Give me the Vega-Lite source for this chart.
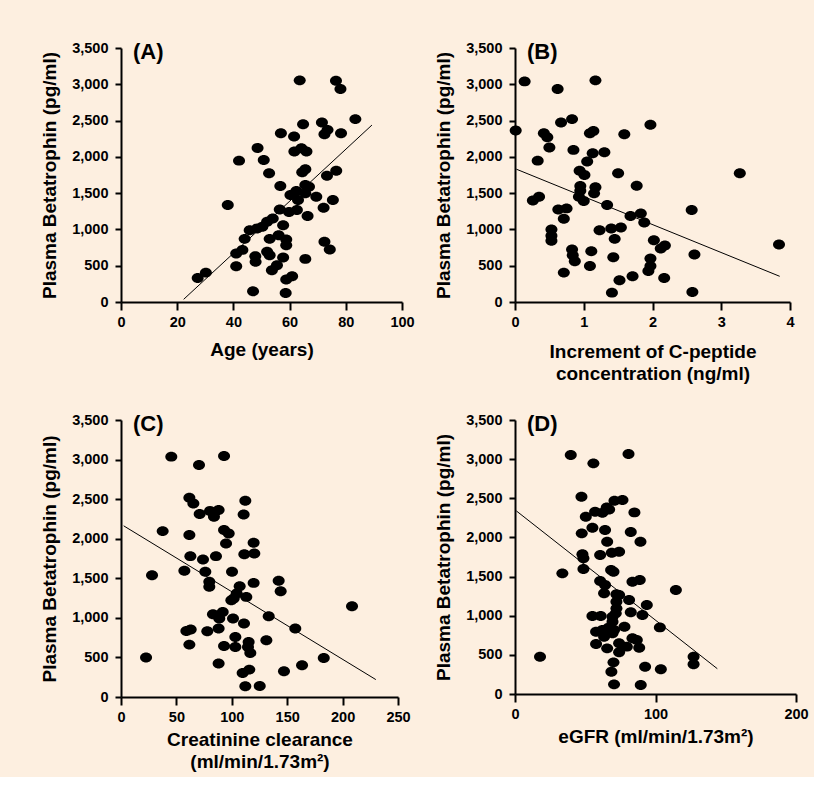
{
  "$schema": "https://vega.github.io/schema/vega-lite/v6.json",
  "padding": {"left": 40, "top": 40, "right": 5, "bottom": 5},
  "background": "#fdefe0",
  "columns": 2,
  "spacing": {"row": 118, "column": 113},
  "bounds": "flush",
  "align": "each",
  "datasets": {
    "a": [
      {"x":27.3,"y":332},{"x":30.2,"y":405},{"x":38,"y":1336},{"x":42,"y":1948},{"x":41,"y":668},{"x":43.2,"y":718},{"x":41,"y":493},{"x":44,"y":870},{"x":45.8,"y":990},{"x":47,"y":147},{"x":47.8,"y":631},{"x":47.9,"y":553},{"x":48.6,"y":2123},{"x":48.4,"y":1013},{"x":50.8,"y":1958},{"x":50.3,"y":1036},{"x":52,"y":691},{"x":52.9,"y":645},{"x":52.7,"y":1773},{"x":52,"y":1105},{"x":54,"y":1151},{"x":52.9,"y":870},{"x":53.7,"y":438},{"x":55.5,"y":507},{"x":56.1,"y":921},{"x":56.9,"y":2326},{"x":56.7,"y":1598},{"x":56.5,"y":1276},{"x":57.7,"y":1059},{"x":57.7,"y":613},{"x":58.8,"y":861},{"x":58.8,"y":783},{"x":58.6,"y":124},{"x":58.8,"y":309},{"x":59.8,"y":1239},{"x":60.9,"y":355},{"x":60.3,"y":1474},{"x":61.6,"y":2280},{"x":61.7,"y":2073},{"x":62.4,"y":1529},{"x":62.6,"y":1267},{"x":63.6,"y":3054},{"x":63,"y":1405},{"x":64.2,"y":2119},{"x":64.8,"y":2450},{"x":64.5,"y":1787},{"x":65.6,"y":1829},{"x":66,"y":2073},{"x":65.6,"y":1612},{"x":65.6,"y":1497},{"x":66.4,"y":1184},{"x":66.9,"y":1589},{"x":65.6,"y":594},{"x":69.5,"y":1451},{"x":71.5,"y":2473},{"x":72.1,"y":1299},{"x":72.4,"y":2312},{"x":73.5,"y":2372},{"x":72.4,"y":829},{"x":74.3,"y":723},{"x":75.4,"y":1405},{"x":73.3,"y":1741},{"x":76.6,"y":1810},{"x":76.5,"y":3049},{"x":78.1,"y":2934},{"x":78.3,"y":2326},{"x":83.4,"y":2520}
    ],
    "la": [{"x":22.3,"y":37},{"x":89.3,"y":2438}],
    "b": [
      {"x":0.01,"y":2363},{"x":0.14,"y":3040},{"x":0.26,"y":1400},{"x":0.35,"y":1451},{"x":0.33,"y":1948},{"x":0.42,"y":2326},{"x":0.47,"y":2271},{"x":0.5,"y":2128},{"x":0.62,"y":2934},{"x":0.67,"y":2473},{"x":0.53,"y":1000},{"x":0.53,"y":912},{"x":0.53,"y":843},{"x":0.63,"y":1276},{"x":0.75,"y":1290},{"x":0.71,"y":1147},{"x":0.71,"y":405},{"x":0.83,"y":2520},{"x":0.85,"y":2096},{"x":0.83,"y":723},{"x":0.84,"y":645},{"x":0.87,"y":562},{"x":0.94,"y":1810},{"x":0.95,"y":1598},{"x":0.95,"y":1534},{"x":0.93,"y":1451},{"x":1.0,"y":1391},{"x":1.01,"y":1750},{"x":1.05,"y":1935},{"x":1.09,"y":2326},{"x":1.14,"y":2358},{"x":1.13,"y":2050},{"x":1.17,"y":3054},{"x":1.15,"y":1497},{"x":1.17,"y":1580},{"x":1.11,"y":700},{"x":1.09,"y":497},{"x":1.23,"y":990},{"x":1.3,"y":2064},{"x":1.34,"y":1336},{"x":1.4,"y":1013},{"x":1.45,"y":870},{"x":1.43,"y":617},{"x":1.41,"y":129},{"x":1.54,"y":1027},{"x":1.52,"y":299},{"x":1.59,"y":2312},{"x":1.5,"y":1773},{"x":1.68,"y":1184},{"x":1.71,"y":355},{"x":1.77,"y":1603},{"x":1.83,"y":1221},{"x":1.88,"y":1096},{"x":1.97,"y":2441},{"x":2.02,"y":852},{"x":1.97,"y":599},{"x":1.97,"y":497},{"x":1.94,"y":428},{"x":2.12,"y":737},{"x":2.18,"y":778},{"x":2.17,"y":332},{"x":2.57,"y":1267},{"x":2.61,"y":654},{"x":2.58,"y":138},{"x":3.27,"y":1773},{"x":3.84,"y":792}
    ],
    "lb": [{"x":0.02,"y":1830},{"x":3.85,"y":354}],
    "c": [
      {"x":22.6,"y":498},{"x":28,"y":1539},{"x":37.6,"y":2096},{"x":45.4,"y":3037},{"x":57.2,"y":1594},{"x":59,"y":835},{"x":62.9,"y":852},{"x":61.7,"y":662},{"x":61.7,"y":2518},{"x":65.3,"y":2446},{"x":61.7,"y":2046},{"x":62.6,"y":1780},{"x":70.4,"y":2931},{"x":71,"y":2311},{"x":74,"y":1738},{"x":76.1,"y":1582},{"x":77.9,"y":831},{"x":79.7,"y":1455},{"x":79.7,"y":1392},{"x":80.3,"y":2349},{"x":83.9,"y":2277},{"x":83,"y":1046},{"x":85.7,"y":1780},{"x":88.1,"y":2362},{"x":88.1,"y":865},{"x":88.1,"y":422},{"x":93,"y":3045},{"x":93,"y":2109},{"x":97.2,"y":2067},{"x":94.8,"y":1940},{"x":93,"y":645},{"x":91.8,"y":1075},{"x":88.7,"y":991},{"x":100.2,"y":1582},{"x":101.1,"y":991},{"x":103.2,"y":759},{"x":103.2,"y":633},{"x":99.6,"y":1223},{"x":101.7,"y":1244},{"x":104.4,"y":1307},{"x":107.1,"y":1400},{"x":110.7,"y":2307},{"x":112.2,"y":2480},{"x":111,"y":928},{"x":111.3,"y":1805},{"x":113.1,"y":1265},{"x":114.6,"y":633},{"x":116.7,"y":557},{"x":115.2,"y":696},{"x":109.8,"y":304},{"x":112.2,"y":135},{"x":115.8,"y":346},{"x":119.7,"y":1442},{"x":119.7,"y":1948},{"x":120.3,"y":1814},{"x":125.2,"y":139},{"x":131.2,"y":717},{"x":133.3,"y":1021},{"x":142.3,"y":1468},{"x":144.1,"y":1337},{"x":147.1,"y":325},{"x":157.3,"y":865},{"x":163.4,"y":401},{"x":183,"y":493},{"x":208.5,"y":1147}
    ],
    "lc": [{"x":2.4,"y":2163},{"x":230,"y":220}],
    "d": [
      {"x":17.8,"y":477},{"x":33.7,"y":1541},{"x":39.7,"y":3052},{"x":47.3,"y":2520},{"x":50.4,"y":2265},{"x":47.5,"y":2052},{"x":48,"y":1784},{"x":48.7,"y":1733},{"x":48.7,"y":1596},{"x":55.1,"y":2124},{"x":55.1,"y":996},{"x":61,"y":996},{"x":55.8,"y":2946},{"x":57,"y":2329},{"x":57.7,"y":796},{"x":57.7,"y":639},{"x":60.6,"y":1443},{"x":60.6,"y":1775},{"x":62.2,"y":2316},{"x":64.1,"y":1392},{"x":63.4,"y":1286},{"x":64.1,"y":2094},{"x":65.3,"y":2384},{"x":65.6,"y":1946},{"x":67,"y":2358},{"x":68.9,"y":1805},{"x":68.4,"y":1584},{"x":70.1,"y":1562},{"x":70.8,"y":2469},{"x":65.6,"y":583},{"x":62.2,"y":817},{"x":63.4,"y":732},{"x":69.4,"y":775},{"x":66.5,"y":847},{"x":69.4,"y":988},{"x":69.4,"y":924},{"x":70.5,"y":817},{"x":71.7,"y":1030},{"x":72.2,"y":1094},{"x":72.2,"y":1179},{"x":72.2,"y":1273},{"x":74.1,"y":1264},{"x":70.1,"y":404},{"x":68.6,"y":285},{"x":70.5,"y":123},{"x":74.1,"y":1818},{"x":74.1,"y":647},{"x":74.1,"y":532},{"x":76.5,"y":2478},{"x":77.9,"y":860},{"x":79.6,"y":605},{"x":80.8,"y":3065},{"x":81.2,"y":1201},{"x":82.4,"y":1043},{"x":82.4,"y":2069},{"x":83.6,"y":1435},{"x":85,"y":2320},{"x":83.6,"y":711},{"x":86.7,"y":690},{"x":88.8,"y":1456},{"x":89.3,"y":1946},{"x":88.4,"y":592},{"x":90.7,"y":1009},{"x":92.6,"y":349},{"x":89.5,"y":115},{"x":93.8,"y":1137},{"x":103.1,"y":851},{"x":103.8,"y":315},{"x":114.5,"y":1328},{"x":127.1,"y":477},{"x":127.1,"y":379}
    ],
    "ld": [{"x":1,"y":2338},{"x":144,"y":323}]
  },
  "concat": [
    {
      "title": {"text": "(A)"},
      "width": 281, "height": 254,
      "encoding": {
        "x": {"field": "x", "type": "quantitative", "scale": {"domain": [0, 100], "nice": false}, "axis": {"values": [0, 20, 40, 60, 80, 100], "format": "d", "title": "Age (years)", "titlePadding": 12}},
        "y": {"field": "y", "type": "quantitative", "scale": {"domain": [0, 3500], "nice": false}, "axis": {"values": [0, 500, 1000, 1500, 2000, 2500, 3000, 3500], "format": ",d", "title": "Plasma Betatrophin (pg/ml)"}}
      },
      "layer": [
        {"data": {"name": "a"}, "mark": {"type": "point", "shape": "M1,0C1,0.458,0.552,0.83,0,0.83C-0.552,0.83,-1,0.458,-1,0C-1,-0.458,-0.552,-0.83,0,-0.83C0.552,-0.83,1,-0.458,1,0Z", "filled": true, "color": "black", "opacity": 1, "size": 144, "strokeWidth": 0}},
        {"data": {"name": "la"}, "mark": {"type": "line", "color": "black", "strokeWidth": 1}}
      ]
    },
    {
      "title": {"text": "(B)"},
      "width": 275, "height": 254,
      "encoding": {
        "x": {"field": "x", "type": "quantitative", "scale": {"domain": [0, 4], "nice": false}, "axis": {"values": [0, 1, 2, 3, 4], "format": "d", "title": ["Increment of C-peptide", "concentration (ng/ml)"], "titlePadding": 14}},
        "y": {"field": "y", "type": "quantitative", "scale": {"domain": [0, 3500], "nice": false}, "axis": {"values": [0, 500, 1000, 1500, 2000, 2500, 3000, 3500], "format": ",d", "title": "Plasma Betatrophin (pg/ml)"}}
      },
      "layer": [
        {"data": {"name": "b"}, "mark": {"type": "point", "shape": "M1,0C1,0.458,0.552,0.83,0,0.83C-0.552,0.83,-1,0.458,-1,0C-1,-0.458,-0.552,-0.83,0,-0.83C0.552,-0.83,1,-0.458,1,0Z", "filled": true, "color": "black", "opacity": 1, "size": 144, "strokeWidth": 0}},
        {"data": {"name": "lb"}, "mark": {"type": "line", "color": "black", "strokeWidth": 1}}
      ]
    },
    {
      "title": {"text": "(C)"},
      "width": 277, "height": 277,
      "encoding": {
        "x": {"field": "x", "type": "quantitative", "scale": {"domain": [0, 250], "nice": false}, "axis": {"values": [0, 50, 100, 150, 200, 250], "format": "d", "title": ["Creatinine clearance", "(ml/min/1.73m²)"], "titlePadding": 7}},
        "y": {"field": "y", "type": "quantitative", "scale": {"domain": [0, 3500], "nice": false}, "axis": {"values": [0, 500, 1000, 1500, 2000, 2500, 3000, 3500], "format": ",d", "title": "Plasma Betatrophin (pg/ml)"}}
      },
      "layer": [
        {"data": {"name": "c"}, "mark": {"type": "point", "shape": "M1,0C1,0.458,0.552,0.83,0,0.83C-0.552,0.83,-1,0.458,-1,0C-1,-0.458,-0.552,-0.83,0,-0.83C0.552,-0.83,1,-0.458,1,0Z", "filled": true, "color": "black", "opacity": 1, "size": 144, "strokeWidth": 0}},
        {"data": {"name": "lc"}, "mark": {"type": "line", "color": "black", "strokeWidth": 1}}
      ]
    },
    {
      "title": {"text": "(D)"},
      "width": 281, "height": 274,
      "encoding": {
        "x": {"field": "x", "type": "quantitative", "scale": {"domain": [0, 200], "nice": false}, "axis": {"values": [0, 100, 200], "format": "d", "title": "eGFR (ml/min/1.73m²)", "titlePadding": 7}},
        "y": {"field": "y", "type": "quantitative", "scale": {"domain": [0, 3500], "nice": false}, "axis": {"values": [0, 500, 1000, 1500, 2000, 2500, 3000, 3500], "format": ",d", "title": "Plasma Betatrophin (pg/ml)"}}
      },
      "layer": [
        {"data": {"name": "d"}, "mark": {"type": "point", "shape": "M1,0C1,0.458,0.552,0.83,0,0.83C-0.552,0.83,-1,0.458,-1,0C-1,-0.458,-0.552,-0.83,0,-0.83C0.552,-0.83,1,-0.458,1,0Z", "filled": true, "color": "black", "opacity": 1, "size": 144, "strokeWidth": 0}},
        {"data": {"name": "ld"}, "mark": {"type": "line", "color": "black", "strokeWidth": 1}}
      ]
    }
  ],
  "config": {
    "view": {"stroke": null},
    "font": "Liberation Sans",
    "axis": {
      "grid": false,
      "domainColor": "black", "domainWidth": 2,
      "tickColor": "black", "tickWidth": 2,
      "labelFont": "Liberation Sans", "labelFontWeight": "bold", "labelFontSize": 14.5, "labelColor": "black",
      "labelFlush": false, "labelOverlap": false,
      "titleFont": "Liberation Sans", "titleFontWeight": "bold", "titleFontSize": 19, "titleColor": "black",
      "titleLineHeight": 22
    },
    "axisY": {"tickSize": 6, "labelPadding": 7, "titlePadding": 12},
    "axisX": {"tickSize": 8, "labelPadding": 5},
    "title": {
      "anchor": "start", "frame": "group", "font": "Liberation Sans", "fontWeight": "bold", "fontSize": 22, "color": "black",
      "baseline": "alphabetic", "offset": -24, "dx": 12
    }
  }
}
